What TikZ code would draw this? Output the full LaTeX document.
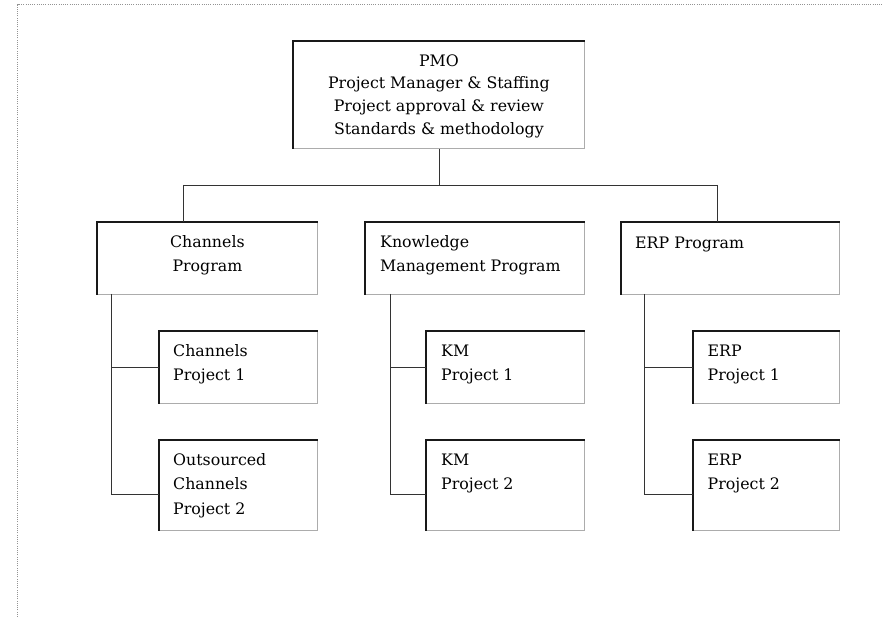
\documentclass[tikz,border=0pt]{standalone}
\usepackage{fontspec}
\setmainfont{DejaVu Serif}
\usetikzlibrary{calc}

\begin{document}
\begin{tikzpicture}[x=1pt,y=1pt,
  box/.style={draw=gray!65, line width=0.8pt, rectangle, inner sep=0pt, anchor=north west},
  boxedge/.style={draw=black!90, line width=1.3pt},
  wire/.style={draw=black!80, line width=0.8pt},
  frame/.style={draw=gray!85, line width=0.8pt, dash pattern=on 1pt off 1.2pt},
  txt/.style={inner sep=0pt, text=black, font=\fontsize{15.8}{24.5}\selectfont},
  pmotxt/.style={inner sep=0pt, text=black, font=\fontsize{15.8}{22.7}\selectfont, align=center, anchor=north},
  lefttxt/.style={txt, align=left, anchor=north west},
  midtxt/.style={txt, align=center, anchor=north}
]
\useasboundingbox (0,0) rectangle (883,-617);
\fill[white] (0,0) rectangle (883,-617);

% outer dotted frame (top and left edges)
\draw[frame] (17.5,-617) -- (17.5,-4.7) -- (883,-4.7);

% boxes
\node[box, minimum width=291, minimum height=107] (pmo) at (293,-41) {};
\node[box, minimum width=220, minimum height=72] (chp) at (97,-222) {};
\node[box, minimum width=219, minimum height=72] (kmp) at (365,-222) {};
\node[box, minimum width=218, minimum height=72] (erp) at (621,-222) {};
\node[box, minimum width=158, minimum height=72] (cp1) at (159,-331) {};
\node[box, minimum width=158, minimum height=90] (cp2) at (159,-440) {};
\node[box, minimum width=158, minimum height=72] (km1) at (426,-331) {};
\node[box, minimum width=158, minimum height=90] (km2) at (426,-440) {};
\node[box, minimum width=146, minimum height=72] (erp1) at (693,-331) {};
\node[box, minimum width=146, minimum height=90] (erp2) at (693,-440) {};

% darker left and top edges of every box
\foreach \b in {pmo,chp,kmp,erp,cp1,cp2,km1,km2,erp1,erp2}
  \draw[boxedge] (\b.south west) -- (\b.north west) -- (\b.north east);

% box texts
\node[pmotxt] (pmot) at ($(pmo.north)+(0,-9.1)$)
  {\strut PMO\\Project Manager \& Staffing\\Project approval \& review\\Standards \& methodology};
\node[midtxt] (chpt) at ($(chp.north)+(0,-7.85)$) {\strut Channels\\Program};
\node[lefttxt] (kmpt) at ($(kmp.north west)+(15,-7.85)$) {\strut Knowledge\\Management Program};
\node[lefttxt] (erpt) at ($(erp.north west)+(14,-8.85)$) {\strut ERP Program};
\node[lefttxt] (cp1t) at ($(cp1.north west)+(14,-7.85)$) {\strut Channels\\Project 1};
\node[lefttxt] (cp2t) at ($(cp2.north west)+(14,-7.85)$) {\strut Outsourced\\Channels\\Project 2};
\node[lefttxt] (km1t) at ($(km1.north west)+(15,-7.85)$) {\strut KM\\Project 1};
\node[lefttxt] (km2t) at ($(km2.north west)+(15,-7.85)$) {\strut KM\\Project 2};
\node[lefttxt] (erp1t) at ($(erp1.north west)+(14.5,-7.85)$) {\strut ERP\\Project 1};
\node[lefttxt] (erp2t) at ($(erp2.north west)+(14.5,-7.85)$) {\strut ERP\\Project 2};

% top level bus
\coordinate (busL) at (183,-185);
\coordinate (busR) at (717,-185);
\draw[wire] (busL) -- (busR);
\draw[wire] (pmo.south) -- (pmo.south |- busL);
\draw[wire] (busL) -- (busL |- chp.north);
\draw[wire] (busR) -- (busR |- erp.north);

% program trunks
\coordinate (chTrunk) at (111,-294);
\coordinate (kmTrunk) at (390,-294);
\coordinate (erpTrunk) at (644,-294);
\coordinate (cp2in) at ($(cp2.north west)!0.6!(cp2.south west)$);
\coordinate (km2in) at ($(km2.north west)!0.6!(km2.south west)$);
\coordinate (erp2in) at ($(erp2.north west)!0.6!(erp2.south west)$);

\draw[wire] (chTrunk) |- (cp2in);
\draw[wire] (chTrunk |- cp1.west) -- (cp1.west);
\draw[wire] (kmTrunk) |- (km2in);
\draw[wire] (kmTrunk |- km1.west) -- (km1.west);
\draw[wire] (erpTrunk) |- (erp2in);
\draw[wire] (erpTrunk |- erp1.west) -- (erp1.west);
\end{tikzpicture}
\end{document}
